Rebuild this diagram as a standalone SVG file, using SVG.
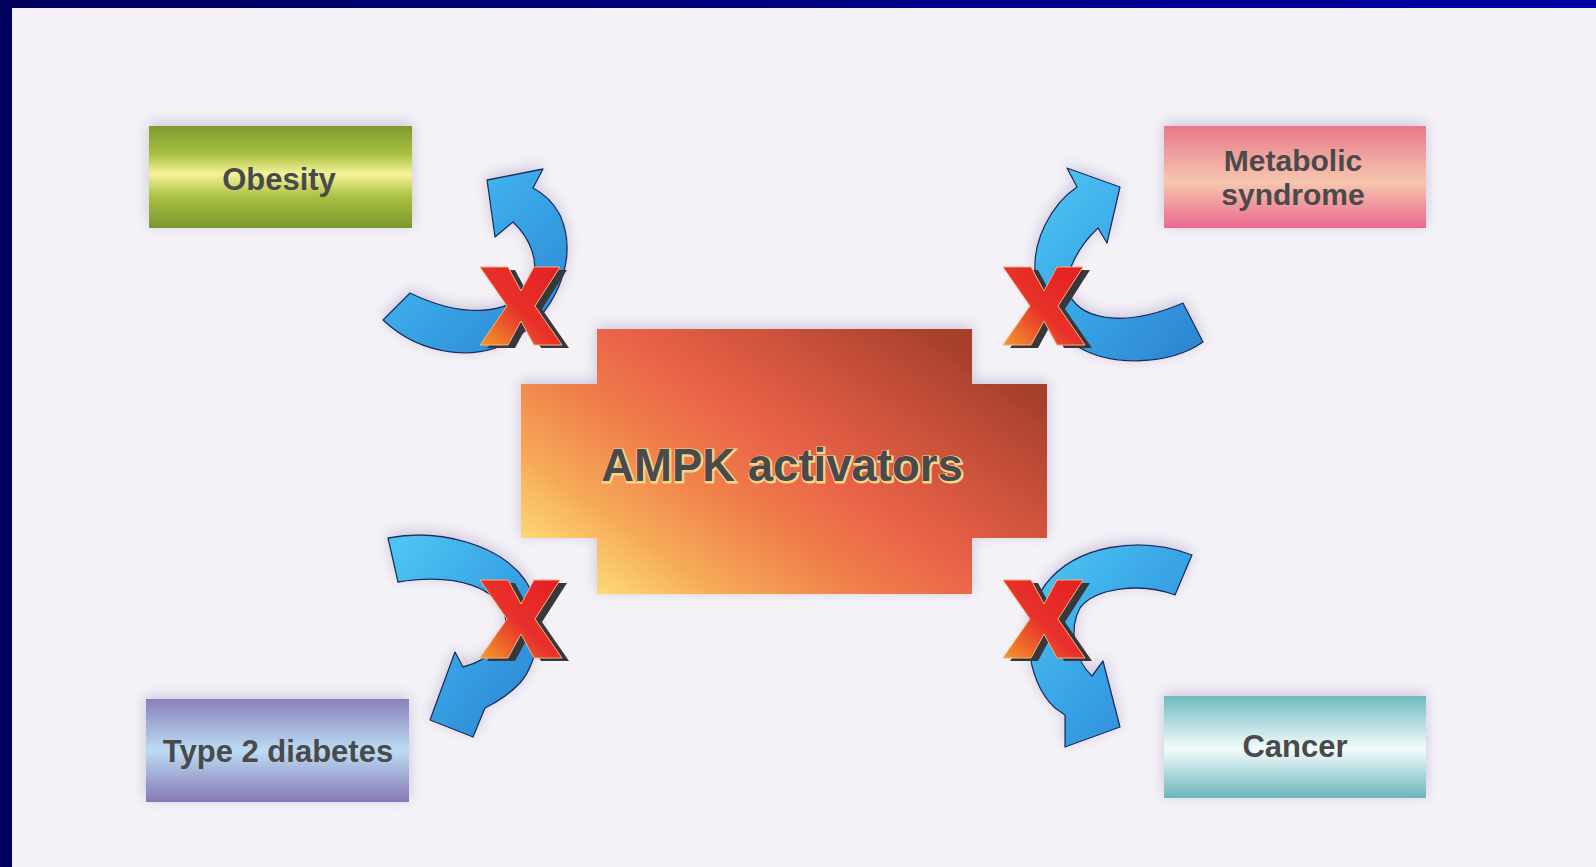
<svg xmlns="http://www.w3.org/2000/svg" xmlns:xlink="http://www.w3.org/1999/xlink" width="1596" height="867" viewBox="0 0 1596 867">
<style>
.lbl{font-family:"Liberation Sans",Arial,sans-serif;font-weight:bold;font-size:31px;fill:#4a4a4c;text-anchor:middle}
.lbl2{font-family:"Liberation Sans",Arial,sans-serif;font-weight:bold;font-size:30px;fill:#4a4a4c;text-anchor:middle}
.big{font-family:"Liberation Sans",Arial,sans-serif;font-weight:bold;font-size:45.5px;text-anchor:middle}
.arrow{fill:url(#blue);stroke:#1b2d5c;stroke-width:1.3;stroke-linejoin:round}
.xr{fill:url(#xg);stroke:#f7b27c;stroke-width:1}
.xs{fill:#38383c}
</style>
<defs>
<linearGradient id="border" x1="0" y1="0" x2="1" y2="0">
<stop offset="0" stop-color="#00005e"/><stop offset="1" stop-color="#0000a4"/>
</linearGradient>
<linearGradient id="gOb" x1="0" y1="0" x2="0" y2="1">
<stop offset="0" stop-color="#7d9c2e"/><stop offset="0.28" stop-color="#a9c142"/><stop offset="0.47" stop-color="#f6f39a"/><stop offset="0.7" stop-color="#a8bf40"/><stop offset="1" stop-color="#7a9830"/>
</linearGradient>
<linearGradient id="gMe" x1="0" y1="0" x2="0" y2="1">
<stop offset="0" stop-color="#e8788c"/><stop offset="0.55" stop-color="#f7c6ae"/><stop offset="1" stop-color="#eb6890"/>
</linearGradient>
<linearGradient id="gDi" x1="0" y1="0" x2="0" y2="1">
<stop offset="0" stop-color="#8a80bc"/><stop offset="0.5" stop-color="#bcdcf2"/><stop offset="1" stop-color="#8678b6"/>
</linearGradient>
<linearGradient id="gCa" x1="0" y1="0" x2="0" y2="1">
<stop offset="0" stop-color="#6fbcc0"/><stop offset="0.52" stop-color="#f4fbfb"/><stop offset="1" stop-color="#6ab6ba"/>
</linearGradient>
<linearGradient id="gAm" gradientUnits="userSpaceOnUse" x1="640" y1="640" x2="880" y2="290">
<stop offset="0" stop-color="#fde47c"/><stop offset="0.2" stop-color="#f6aa58"/><stop offset="0.42" stop-color="#ef7a48"/><stop offset="0.58" stop-color="#e86248"/><stop offset="0.8" stop-color="#c8503a"/><stop offset="1" stop-color="#a6402c"/>
</linearGradient>
<linearGradient id="blue" x1="0" y1="0" x2="1" y2="1">
<stop offset="0" stop-color="#50c8f4"/><stop offset="0.5" stop-color="#38a4e6"/><stop offset="1" stop-color="#2c82d0"/>
</linearGradient>
<linearGradient id="xg" x1="1" y1="0" x2="0" y2="1">
<stop offset="0" stop-color="#e41e22"/><stop offset="0.55" stop-color="#e8322a"/><stop offset="1" stop-color="#f39a2c"/>
</linearGradient>
<filter id="sh" x="-20%" y="-30%" width="140%" height="160%">
<feGaussianBlur in="SourceAlpha" stdDeviation="7"/>
<feOffset dx="0" dy="-3" result="b"/>
<feFlood flood-color="#a89fc2" flood-opacity="0.55"/>
<feComposite in2="b" operator="in"/>
<feMerge><feMergeNode/><feMergeNode in="SourceGraphic"/></feMerge>
</filter>
<g id="xm">
<polygon class="xs" transform="translate(7,3)" points="0,0 28,0 41,24 54,0 80,0 55,39 82,78 54,78 41,54 28,78 0,78 27,39"/>
<polygon class="xr" points="0,0 28,0 41,24 54,0 80,0 55,39 82,78 54,78 41,54 28,78 0,78 27,39"/>
</g>
</defs>

<rect x="0" y="0" width="1596" height="867" fill="#f4f1f7"/>
<rect x="0" y="0" width="1596" height="8" fill="url(#border)"/>
<rect x="0" y="0" width="12" height="867" fill="#00005e"/>

<g id="ampk">
<polygon filter="url(#sh)" fill="url(#gAm)" points="597,329 972,329 972,384 1047,384 1047,538 972,538 972,594 597,594 597,538 521,538 521,384 597,384"/>
<text class="big" x="782" y="481" fill="none" stroke="#f5d58c" stroke-width="3" transform="translate(1,1)">AMPK activators</text>
<text class="big" x="782" y="481" fill="#4a4a4c">AMPK activators</text>
</g>

<g id="obesity">
<rect x="149" y="126" width="263" height="102" fill="url(#gOb)" filter="url(#sh)"/>
<text class="lbl" x="279" y="190">Obesity</text>
</g>

<g id="metabolic">
<rect x="1164" y="126" width="262" height="102" fill="url(#gMe)" filter="url(#sh)"/>
<text class="lbl2" x="1293" y="171">Metabolic</text>
<text class="lbl2" x="1293" y="205">syndrome</text>
</g>

<g id="diabetes">
<rect x="146" y="699" width="263" height="103" fill="url(#gDi)" filter="url(#sh)"/>
<text class="lbl" x="278" y="762">Type 2 diabetes</text>
</g>

<g id="cancer">
<rect x="1164" y="696" width="262" height="102" fill="url(#gCa)" filter="url(#sh)"/>
<text class="lbl" x="1295" y="757">Cancer</text>
</g>

<g id="connectors">
<g filter="url(#sh)">
<path class="arrow" d="M383,320 C420,355 480,365 520,335 C560,305 578,255 560,215 C553,202 543,193 533,188 L543,169 L487,180 L495,237 L513,222 C530,238 540,262 532,283 C518,312 470,322 410,293 Z"/>
<path class="arrow" d="M1203,342 C1170,365 1110,368 1075,345 C1035,318 1025,265 1045,225 C1055,205 1065,195 1077,187 L1067,168 L1120,187 L1107,243 L1098,228 C1080,245 1065,270 1068,290 C1075,318 1120,330 1183,303 Z"/>
<path class="arrow" d="M388,538 C440,528 500,545 525,580 C545,610 540,660 520,683 C508,696 495,703 485,708 L473,737 L430,720 L455,652 L463,667 C490,660 510,640 505,615 C498,590 460,572 398,582 Z"/>
<path class="arrow" d="M1192,555 C1140,535 1075,545 1045,585 C1020,620 1025,680 1055,708 L1065,715 L1065,747 L1120,727 L1103,661 L1092,676 C1075,660 1068,630 1080,608 C1095,588 1140,582 1175,595 Z"/>
</g>
<use href="#xm" x="480" y="267"/>
<use href="#xm" x="1003" y="267"/>
<use href="#xm" x="480" y="580"/>
<use href="#xm" x="1003" y="580"/>
</g>
</svg>
